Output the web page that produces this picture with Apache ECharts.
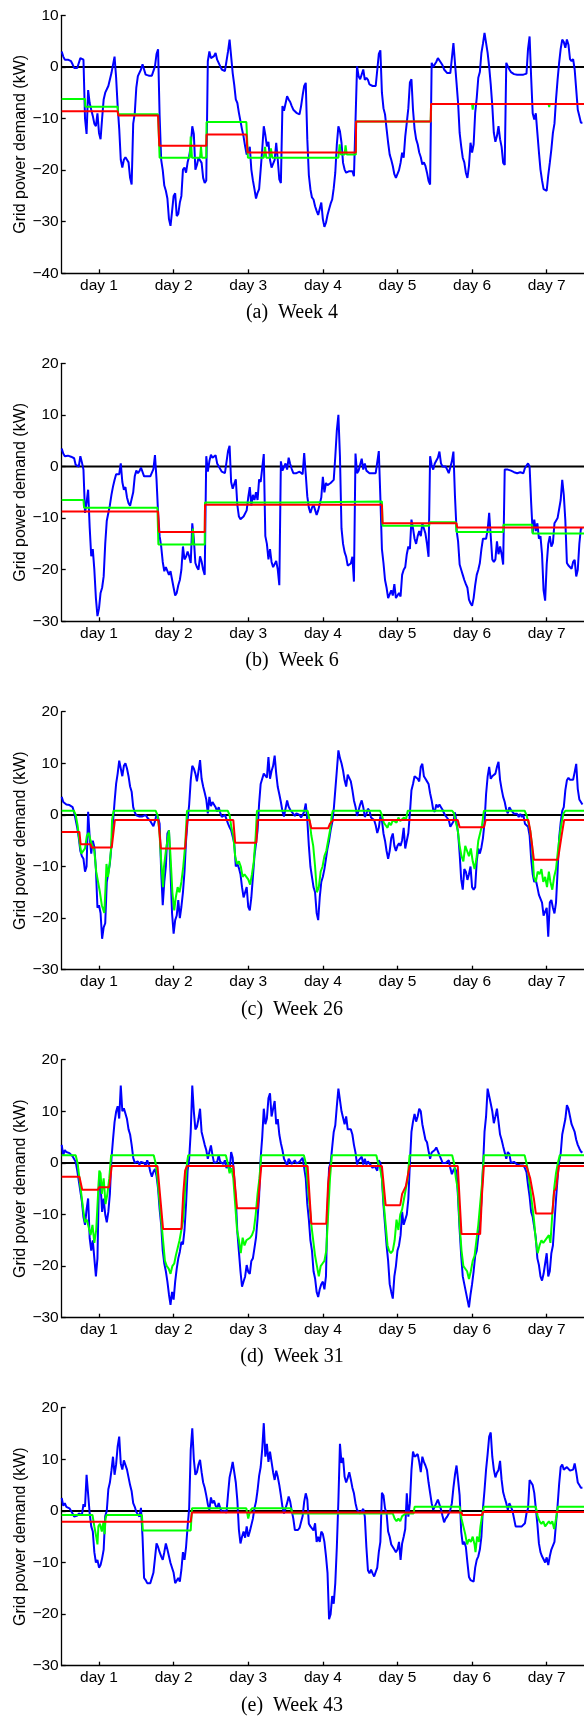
<!DOCTYPE html>
<html>
<head>
<meta charset="utf-8">
<script src="https://cdn.jsdelivr.net/npm/echarts@6/dist/echarts.min.js"></script>
<style>
html, body { margin: 0; padding: 0; background: #fff; }
#chart { width: 584px; height: 1716px; }
</style>
</head>
<body>
<div id="chart"></div>
<script>
// ticks sit in the middle of each day, x axis is in hours
const dayTickHours = [12, 36, 60, 84, 108, 132, 156];
const dayLabels = ['day 1', 'day 2', 'day 3', 'day 4', 'day 5', 'day 6', 'day 7'];
const panelTitles = ['(a)  Week 4', '(b)  Week 6', '(c)  Week 26', '(d)  Week 31', '(e)  Week 43'];
const yRanges = [[-40, 10], [-30, 20], [-30, 20], [-30, 20], [-30, 20]];

// blue: grid power demand (kW), read on the hour (h = 0..167) ...
const week4Blue = [
  3.0, 1.4, 1.4, 1.1, -0.2, -0.2, 1.7, 1.4, -13, -7,
  -9.5, -11.5, -12.8, -10, -5, -3.7, -1.2, 2.0, -7.6, -18,
  -18, -18, -21.5, -11, -4, -1.7, 0.5, -1.5, -1.7, -1.7,
  0.1, 3.4, -18, -23, -25.5, -30.8, -25, -28.9, -26.3, -19.9,
  -20.5, -17.3, -11.5, -19.9, -17.6, -18.6, -22.5, 1.1, 1.7, 2.1,
  1.4, 0.1, -0.8, -0.8, 5.3, -1.2, -6.3, -8.9, -12.1, -15.4,
  -17.3, -19.9, -23.7, -24.4, -19.9, -11.5, -15.4, -18, -19.2, -14.7,
  -21.8, -7.6, -8.3, -6.3, -7.6, -8.6, -8.9, -7.6, -3.7, -14,
  -23.7, -25.7, -27.9, -27.5, -29.5, -30.2, -27.6, -25.7, -20.5, -11.5,
  -14.7, -19.9, -20.8, -19.9, -21.2, 0.1, -2.4, -0.5, -2.1, -3.4,
  -3.7, -3.7, 2.5, -5, -9.2, -14.7, -18, -20.8, -21.5, -18.6,
  -17.6, -10.8, -3, -8.3, -14, -16.6, -18.9, -19.2, -22.1, 0.8,
  0.1, 1.7, 0.8, -0.5, -1.2, -1.2, 4.6, -3.1, -12.8, -17.6,
  -20.5, -19.2, -16.6, -8.9, -2.1, 2.7, 6.6, 2.7, -3.4, -12.8,
  -13.4, -14, -18.6, 0.8, -0.5, -1.3, -1.5, -1.5, -1.5, -1.2,
  3.5, -2, -10.2, -12.8, -19.9, -23.7, -24, -18.6, -12.8, -6.3,
  0.8, 5.3, 3.7, 4.3, 1.1, -0.5, -8.3, -10.8
];
// ... and on the half hour (h + 0.5)
const week4BlueHalf = [
  2, 1.4, 1.2, 0.5, -0.2, -0.3, 1.8, -10, -4.5, -8.3,
  -11, -9, -14, -6.3, -5, -4, -1, -2, -12, -19.5,
  -17.5, -18.5, -22.8, -9, -1.8, -0.5, -0.5, -1.7, -1.7, -1.7,
  2.5, -9.5, -20, -24, -29.5, -28, -24.5, -28.5, -25, -19.5,
  -18.5, -15.4, -13, -19, -17.3, -21.5, -22, 3, 1.5, 2.7,
  1.4, -0.5, -0.8, 3, 5, -3.5, -7, -10.5, -13.5, -17,
  -15.5, -22, -25.5, -23.7, -16, -13.2, -14.5, -19.5, -18, -18,
  -22.5, -8.5, -5.7, -6.8, -8.3, -8.9, -9.2, -5.5, -3.1, -21,
  -25.3, -27, -28.7, -26.3, -31, -28.7, -26.5, -23.5, -15, -12.5,
  -18.6, -20.5, -20.2, -20.2, -21, -1.8, -2.5, -2.5, -2.5, -3.7,
  -3.7, -3.5, 3.2, -8, -12, -17, -19.2, -21.5, -20, -16.6,
  -13.5, -8, -2.4, -12, -15, -17.5, -18.5, -20.5, -22.8, 0,
  1, 2, 0.3, -0.8, -1.2, -1.2, 4.5, -7, -15.4, -18.5,
  -21.5, -14.7, -15, -6, -1, 4.5, 6.5, 0, -7.5, -14.5,
  -11.5, -15.5, -19, 0.1, -1, -1.4, -1.5, -1.5, -1.5, -1.3,
  5.9, -9, -9, -16.5, -22, -23.5, -21, -16, -11, -2.5,
  3.5, 4.8, 5.3, 1.5, 1.5, -4.4, -9.5, -10.8
];
const week6Blue = [
  3.5, 2.0, 2.1, 1.9, 1.6, 0.1, 2.0, -0.6, -7, -11.8,
  -16, -25.5, -27.5, -23.5, -15, -9, -5.5, -2.6, -1.5, 0.6,
  -4.5, -6, -7.6, -5, -0.8, -0.9, -0.3, -1.9, -1.9, -1.9,
  2.2, -9, -15.5, -20.3, -19.5, -20.3, -23.5, -24.5, -22, -15.5,
  -17.5, -17.4, -11, -18.7, -20, -18.4, -21, -1, 2.3, 1.5,
  0.6, -0.5, -1.3, -1.3, 4.0, -4.3, -2.5, -9.7, -10, -9.8,
  -6, -7.6, -6.5, -6.5, -3, 2.4, -15, -16, -19.5, -18.3,
  -23, -0.8, 0.6, 1.7, -0.5, -1.3, -1.3, -0.9, 2.6, -5.8,
  -9, -7.4, -9.4, -8.2, -2, -3.2, -3.6, -3.2, 1.9, 10,
  -12, -16.6, -19.2, -18.8, -22.3, -1.3, -0.8, -0.6, -0.8, -1.3,
  -1.3, -1.3, 3.0, -16, -22, -25.5, -24, -22.8, -25.5, -25.2,
  -20, -17, -16, -12, -15, -12.5, -11, -13, -17.5, 0.3,
  0.6, 1.7, 0.6, 0, -0.6, -1.3, 2.9, -12.3, -19, -21,
  -22.8, -25.8, -27, -23, -20, -16, -14, -12.3, -13.5, -18.5,
  -14.5, -15.5, -19, -0.6, -0.3, -0.6, -1.3, -1, -1.3, -0.3,
  0.6, -7, -10.3, -11, -13.5, -24, -19, -13.5, -14.8, -10.5,
  -10, -2.6, -10.5, -19.2, -19.8, -18.1, -20, -12
];
const week6BlueHalf = [
  2.5, 2.3, 2.0, 1.7, 0.3, 0, 0.8, -9, -4.5, -17.4,
  -20, -29, -24.5, -21.3, -10.5, -7.5, -3.9, -1.5, -1.5, -3,
  -4, -7.1, -7.5, -1.9, -1.3, -0.2, -1.9, -1.9, -1.9, -0.5,
  -2.5, -13.5, -18.5, -19.5, -21, -21.9, -25, -23, -20, -18,
  -16.5, -18.7, -14, -19.5, -17.4, -20, 2, 1, 1.7, 2.2,
  0.6, -1, -1.3, 3, -3, -4.5, -7.5, -10.2, -9.7, -8.5,
  -4, -5.5, -5, -2.5, -3.2, -13.5, -18, -18.5, -19.4, -20,
  1, -0.5, -0.6, 0.5, -1.3, -1.3, -1, -1.5, -1.5, -8,
  -8, -8.4, -8.5, -6, -5, -3.6, -3.2, -2.6, 7, 2,
  -15, -17.5, -19.2, -17.5, 2.5, -0.8, 1.5, 0.6, -1, -1.3,
  -1.3, -1.3, -6, -18.7, -23.5, -25.5, -25, -25.5, -24.5, -21,
  -19.5, -15.5, -10.3, -14, -13.5, -13.5, -12, -15, 2, -0.6,
  0.8, 2.9, 0, 0, -1.3, 1, -5.8, -14.5, -20, -22,
  -23.5, -26.5, -25.5, -21, -18.7, -14, -14, -9, -18, -18,
  -17, -17, -0.6, -0.6, -0.8, -1.1, -1.3, -1.1, -1.3, 0,
  0, -12.9, -12.5, -14, -17, -26, -15, -15.5, -11, -10,
  -6.5, -5.5, -18.7, -19.5, -18.5, -21.3, -15, -12
];
const week26Blue = [
  3.5, 2.3, 2.0, 1.8, 0.5, -2.5, -7, -8.5, -10, -4.3,
  -5, -10.5, -17.5, -24, -21, -13, -6, 2.5, 8, 10.8,
  9.5, 9, 5.5, 1.5, -0.1, -0.3, -0.3, 0, -0.5, -1.7,
  -1.2, -0.5, -11, -13, -3.6, -11, -23, -19.5, -20, -15,
  -5, 2, 9.5, 8, 8.5, 7, 4.3, 0.3, 1.7, 2.5,
  0.6, 0.4, -0.6, 0.2, -2.4, -4.2, -10, -10.3, -14, -16,
  -17.8, -16, -8, -3, 6, 8, 7.2, 7, 9.5, 8,
  4, 0.7, -0.3, 1.6, 0.7, -0.2, 0.3, -0.5, 0.6, -1,
  -10, -14, -19, -16, -12, -8.5, -5, -1.5, 4.8, 12.5,
  10, 6.7, 7.8, 6.5, 2.8, -0.2, 2, 1.5, 0.2, 0.8,
  -0.4, -2, -2.5, -1, -5, -8.5, -4.5, -6, -6, -6,
  -2.5, -6.5, 0.3, 6, 7.5, 6.5, 9.9, 7, 6, 2.8,
  0.6, 1.5, 1.5, 0.3, -0.6, -2.3, -1.3, 0.2, -7.5, -14.5,
  -11, -11.5, -14, -14, -6.5, -6.3, -1.5, 7.4, 7, 7.5,
  9.3, 6.8, 3.5, 1, 1.5, 0.6, 0.2, -0.4, -0.4, -1.7,
  -2.3, -8.5, -13, -14, -15.5, -19.5, -18, -17, -18, -17,
  -4.5, 0.8, 4.8, 7.2, 6.5, 8.3, 5, 2.5
];
const week26BlueHalf = [
  2.5, 2.0, 1.9, 1.5, -1, -4.5, -8, -11, 0.6, -7.5,
  -6.2, -18, -19, -21.8, -13, -9.4, -1.5, 6, 10.5, 7.5,
  10, 7.5, 4.5, 0.5, 0, -0.2, 0, -0.5, -1.2, -2.2,
  0, -1.7, -17.5, -10, -3, -19.1, -20.4, -16.5, -17.8, -11,
  -1, 6.7, 9, 6.5, 10.6, 5.5, 3, 3.5, 2.5, 1.5,
  1.5, -0.4, 0, -1.7, -3, -5.5, -9.5, -11.5, -16, -14,
  -18.5, -12, -5.5, 2.2, 7, 8, 11.2, 8.5, 11.5, 5.4,
  2.5, -0.3, 2.8, 1, 0.2, 0.3, 0, -0.5, 2.2, -6,
  -12, -15, -20.4, -13, -10.5, -6.5, -3, 1, 8.6, 11,
  8.6, 5.5, 7.5, 4.8, 1.6, -0.2, 2.8, -0.4, 1.2, -0.5,
  -1, -3.5, -0.3, -3.6, -7, -7, -3.6, -7, -5.5, -4.9,
  -6.5, -3.5, 4.8, 7.5, 7, 9.3, 7.5, 6.5, 4.2, 1,
  2, 2, 1, -0.2, -1, -2.3, 0.5, -3.5, -12.5, -10.5,
  -12.6, -10, -14.5, -9, -7.5, -4.5, 4, 9.3, 7.5, 8,
  10.3, 5, 2.5, 0.3, 1, 0.2, 0.2, 0.2, 0, -1.7,
  -4, -11.5, -12.6, -15.5, -17, -19.5, -23.6, -16.5, -19.1, -11,
  -1.5, 1.5, 6.7, 6.8, 6.8, 9.9, 3, 2
];
const week31Blue = [
  3.5, 2.5, 2.1, 1.8, 1.2, -1.5, -5.5, -10.5, -9, -14.6,
  -15, -22, -3, -9.5, -10, -9.5, 0.8, 7.9, 11, 15,
  10.6, 8.5, 5.5, 1, -0.2, -0.3, 0.2, -0.5, -0.3, -2.7,
  -1.2, -5, -12, -19.5, -23, -27.5, -26.5, -20.5, -17.2, -15.8,
  -8, 0.8, 15, 6.5, 8.5, 6, 3.5, 0.8, 3.4, 0,
  0.2, 0.2, -0.2, -1, -1.6, 1, -7, -17.2, -24, -22,
  -21.1, -19, -16.5, -10.8, 1, 10.5, 8.6, 13.5, 10.5, 7.5,
  5.5, 2.5, 0.2, 0.8, -0.2, 0.5, -0.3, 0.5, -1, -8,
  -15, -21, -25, -24.5, -23, -22, -1, 3, 7.3, 14.4,
  10, 7.5, 6.5, 6.5, 3.5, -0.3, 0.5, -0.3, -0.3, -0.1,
  -1, -1, 0.5, -3, -12, -19, -25, -22, -17, -14,
  -12, -10, 0, 8, 8, 10.5, 7.5, 4.5, 2.3, 2,
  2.5, 3, 0.8, 0.1, -0.2, -1, -1.4, -1.7, -13, -22,
  -25, -28, -23.5, -18, -14.3, -7.5, 6, 14.4, 11.5, 7.7,
  10.5, 5.5, 3.2, 0.8, 1.7, 0, 0.2, -0.4, -0.5, -1,
  -4.3, -9.5, -12.5, -18.5, -22, -21.5, -17.5, -21, -16, -7,
  0.3, 5.5, 8.5, 10.5, 7.5, 6, 3.5, 2.2
];
const week31BlueHalf = [
  1.5, 2.1, 1.9, 1.3, 0.2, -3.5, -7.5, -12, -6.9, -17,
  -18.5, -18.5, -4.3, -6.9, -11.5, -6, 4.5, 9.9, 8.6, 10,
  10.3, 6.5, 3.5, 0, 0.3, 0.2, 0, 0.5, -1.7, -1.7,
  -2.5, -9, -17, -21, -25.5, -25, -23, -18.5, -15.3, -13,
  -1.5, 6, 10, 7, 10.5, 5.7, 2.5, 2.1, 1.5, -0.3,
  1.5, 0, 0.5, -0.5, 2.1, -3, -13.4, -21, -23, -19.8,
  -21.5, -18.5, -14.5, -6.5, 5, 7.5, 12.5, 9, 12, 8.5,
  3.8, 0.8, -0.5, 0.3, 0, -0.1, 0.2, 1, -3, -11,
  -17, -22.4, -26, -23.5, -24.5, -9, 0, 6, 11, 14.4,
  10.3, 9, 6.5, 5.5, 2, 0.5, 1.2, 0.8, 0.3, 0.2,
  -0.5, -1.5, 0, -8.2, -16, -23.5, -26.3, -20, -16, -9.5,
  -11, -7, 6, 9.5, 9, 10, 6, 4, 0.8, 2.1,
  3, 1.5, 0, 0, 0.5, -2.2, -1, -6.9, -18, -23.5,
  -26.5, -25.5, -21, -17, -12, -1, 9, 14.4, 10, 9,
  8, 4.5, 2, 2.1, 0, 0.2, -0.3, -0.5, -0.5, -1.8,
  -6.5, -10.5, -14.5, -19.8, -22.8, -19.5, -22, -17.5, -11.5, -3,
  1.8, 7, 11.2, 9, 7.5, 4.5, 2.8, 2
];
const week43Blue = [
  2.5, 1.5, 1.0, 0.2, -1.1, -0.9, -0.5, 1.3, 7, -0.5,
  -4, -10, -11, -9.2, -1, 4.2, 7.8, 7, 12.5, 9.2,
  9.8, 8, 5, 1.5, -0.2, -1.1, -5, -13.4, -14, -14,
  -9.2, -7, -8.8, -8, -7.5, -10.1, -12, -14, -13.7, -8,
  -7, 0.5, 16, 7, 9, 7.5, 4.5, 1.3, 2.6, 2,
  0.5, 0.5, -0.2, -0.4, 6.5, 9.5, 5.5, -3.7, -5, -5.2,
  -5, -3.8, 0.5, 4, 8.5, 17, 13, 11.5, 7.5, 7.8,
  5, 0.8, -0.2, 2.8, 0, -3.7, -3.7, -3, 1.8, 2.2,
  -3, -3.8, -6, -6, -4.5, -8.7, -21, -16.5, -14, 2,
  9.3, 6.6, 6.4, 6.1, 3.4, 0.2, -0.5, 0.4, -7, -12.1,
  -12.1, -12.5, -8, 3.5, 0.5, -4, -6.5, -7.5, -7.5, -9.5,
  -5, 3.4, 1.5, 11.5, 10.5, 9.5, 10.5, 8.8, 5.5, 1.5,
  0.5, 2.2, 0.3, -2.2, -1.1, 0.2, 4.5, 8.8, 3, -6.5,
  -7, -12.8, -13.5, -11, -8.8, -5, 4, 11, 15.2, 8,
  7.4, 9.7, 3.6, 1.5, 1.5, 0, -3, -3, -3, -2.4,
  0.5, 5.5, 3.5, -2.5, -8, -9, -9, -8.8, -7.5, -2.4,
  5.2, 9, 8, 8.2, 7.5, 9.2, 5.5, 4.5
];
const week43BlueHalf = [
  1, 0.8, 0.5, -0.5, -1.1, -0.5, -0.8, 0.8, 7.3, -3,
  -8, -9.5, -10.5, -7.5, 0, 5.5, 10.5, 9, 14.4, 8,
  9.5, 6.5, 3.8, 0.8, -0.5, 0.6, -13, -14, -14, -12,
  -6.3, -8, -9.5, -6.3, -7.5, -10.1, -14, -13, -11.4, -9.5,
  -3, 11.8, 10, 7.5, 9.9, 5.5, 3, 0.2, 1.5, 1,
  1.5, -0.2, 0, 3.2, 7.9, 7.5, 2, -6.3, -4, -3,
  -4, -1.5, 1.8, 6.8, 12, 10.5, 9.5, 11.5, 6, 6.6,
  3, -0.5, 1.5, 1.8, -1.5, -3.7, -3.3, -1, 3.4, -2.5,
  -3, -2.4, -5, -4, -6, -12, -20, -18, -7, 13,
  10.3, 5.5, 7.5, 4.5, 1.5, 0.2, -0.8, -1.1, -11.5, -11.4,
  -12.7, -11, -6, 3, -0.5, -5, -7, -8, -6, -6.3,
  -3.5, -1.1, 7.9, 10.5, 11, 7.5, 9.5, 7.9, 3.5, 0.2,
  1.5, 2.5, -1, -1.5, -0.5, 1.5, 7, 6, -4, -6,
  -10, -13.4, -13.7, -9.5, -7.5, 0.5, 8, 14.4, 10.5, 6.5,
  7.9, 6, 2.5, 0.2, 0.8, -1.5, -3, -3, -2.8, -0.5,
  6, 5, 0.5, -6.3, -8.8, -10, -10.5, -7.5, -6, 1,
  8.5, 8, 8.5, 7.8, 8, 7.5, 5, 4.5
];

// green and red: [hour, kW] corner points
const week4Green = [
  [0, -6.2], [7.5, -6.2], [7.6, -7.7], [18, -7.7], [18.1, -9.2], [31, -9.2], [31.5, -17.6],
  [41.2, -17.6], [41.5, -13.5], [41.9, -17.6], [44.5, -17.6], [44.8, -15.4], [45.1, -17.6],
  [46.5, -17.6], [46.6, -10.7], [59.4, -10.7], [59.9, -17.6], [65, -17.6], [65.4, -15.5],
  [65.8, -17.6], [67, -17.6], [67.3, -15.8], [67.7, -17.6], [89, -17.6], [89.4, -15],
  [89.8, -17], [91, -17], [91.3, -15.2], [91.7, -17], [94.6, -17], [94.7, -10.6],
  [118.7, -10.6], [118.8, -7.2], [132, -7.2], [132.2, -8.3], [132.4, -7.2], [156.6, -7.2],
  [156.8, -7.8], [157, -7.2], [168, -7.2]
];
const week4Red = [
  [0, -8.6], [18, -8.6], [18.2, -9.4], [31, -9.4], [31.4, -15.3], [46.5, -15.3], [46.6, -13.1],
  [59.4, -13.1], [59.8, -16.6], [94.6, -16.6], [94.7, -10.6], [118.7, -10.6], [118.8, -7.2], [168, -7.2]
];
const week6Green = [
  [0, -6.5], [7, -6.5], [7.2, -8], [30.8, -8], [31.1, -15.1], [42, -15.1], [42.2, -12],
  [42.4, -15.1], [46, -15.1], [46.1, -7], [75, -7], [75.1, -6.8], [103, -6.8], [103.2, -11.5],
  [118.2, -11.5], [118.3, -10.8], [126.8, -10.8], [127, -12.7], [142, -12.7], [142.1, -11.3],
  [151.3, -11.3], [151.5, -13], [168, -13]
];
const week6Red = [
  [0, -8.7], [31, -8.7], [31.3, -12.7], [46, -12.7], [46.1, -7.4], [103, -7.4], [103.2, -11],
  [127, -11], [127.2, -11.8], [168, -11.8]
];
const week26Green = [
  [0, 0.8], [3.9, 0.8], [4.5, 0], [5.1, -2], [5.7, -5], [6.3, -7.5], [6.9, -7.6], [7.5, -6.5],
  [8.1, -4], [8.7, -3.5], [9.3, -5], [9.9, -6], [10.5, -7], [11.1, -11], [11.7, -13], [12.3, -15],
  [12.9, -17.5], [13.7, -19], [14.1, -14], [14.4, -9.5], [14.9, -12], [15.4, -9.7], [15.9, -6.5],
  [16.2, -1], [16.7, 0.8],
  [30.2, 0.8], [30.8, 0], [31.4, -3], [32, -9], [32.6, -14], [32.9, -10], [33.5, -7], [34, -5],
  [34.5, -3], [35, -8], [35.6, -15], [36.2, -18.5], [36.7, -16], [37.3, -14], [37.9, -15],
  [38.5, -13], [39.1, -10], [39.7, -6], [40.3, 0.8],
  [53.4, 0.8], [54, 0], [54.6, -2.5], [55.2, -4], [55.8, -8], [56.4, -9.5], [57, -9], [57.6, -10],
  [58.2, -12], [58.8, -11.5], [59.4, -12], [60, -12.5], [60.6, -13.5], [61.2, -11.5], [61.8, -9],
  [62.4, -4], [62.8, 0.8],
  [79.1, 0.8], [79.7, -1], [80.3, -4], [80.9, -6], [81.5, -10], [82.1, -15], [82.7, -14],
  [83.3, -11], [83.9, -10], [84.5, -8], [85.1, -7], [85.7, -5], [86.3, -3], [86.9, 0], [87.2, 0.8],
  [102.4, 0.8], [103, 0], [103.6, -1.5], [104.2, -2], [104.8, -2.5], [105.3, -1.5], [105.9, -2],
  [106.5, -1], [107.1, -0.8], [107.7, -1.5], [108.3, -0.5], [108.9, -1.2], [109.5, -1.5],
  [110.1, -0.5], [110.7, -1], [111.3, 0.8],
  [125.6, 0.8], [126.2, 0.3], [126.8, -1.5], [127.4, -3], [128, -6], [128.6, -8], [129.2, -9],
  [129.8, -6], [130.4, -7], [131, -8], [131.6, -6.5], [132.2, -9], [132.8, -10.5], [133.4, -8.5],
  [134, -5], [134.6, -3.5], [135.2, -2], [135.8, 0.8],
  [148.9, 0.8], [149.5, 0], [150.1, -1.5], [150.7, -3], [151.3, -6], [151.9, -12], [152.5, -13],
  [153.1, -11], [153.7, -11.5], [154.3, -10.5], [154.9, -13], [155.5, -12], [156.1, -14],
  [156.7, -11], [157.2, -13], [157.8, -14.5], [158.4, -12], [159, -10.5], [159.6, -7], [160.2, -4],
  [160.8, -1.5], [161.4, 0.3], [162, 0.8], [168, 0.8]
];
const week26Red = [
  [0, -3.3], [5.7, -3.3], [6.1, -5.7], [9.3, -5.7], [9.6, -6.3], [16.1, -6.3], [17.1, -1],
  [31.1, -1], [31.9, -6.5], [39.7, -6.5], [40.4, -1], [55.2, -1], [55.8, -5.4], [62.6, -5.4],
  [63, -1], [79.7, -1], [80.3, -2.6], [85.7, -2.6], [86.3, -1.7], [87.4, -1], [127.4, -1],
  [128, -2.4], [135.8, -2.4], [136.4, -1], [150.1, -1], [150.7, -3], [151.9, -8.7], [159.6, -8.7],
  [160.8, -4], [161.6, -1], [168, -1]
];
const week31Green = [
  [0, 1.5], [4.5, 1.5], [5.1, 0], [5.7, -3], [6.3, -6], [6.9, -9], [7.5, -11.5], [8.1, -11],
  [8.7, -12.5], [9.3, -14], [9.9, -12], [10.5, -15.5], [11.1, -13], [11.7, -6], [12.1, -1.5],
  [12.5, -2], [12.9, -6], [13.5, -3], [14.1, -8], [14.7, -6], [15.3, -3], [15.9, 1.5],
  [29.6, 1.5], [30.2, 0], [30.8, -3], [31.4, -7], [32, -11], [32.6, -15], [33.2, -19], [33.8, -20],
  [34.4, -20.5], [35, -21.5], [35.6, -20], [36.2, -19.5], [36.7, -18], [37.3, -16.5], [37.9, -15],
  [38.5, -13], [39.1, -11], [39.7, -5], [40.3, 0], [40.7, 1.5],
  [52.8, 1.5], [53.4, 0], [54, -2], [54.6, -1], [55.2, -3], [55.8, -8], [56.4, -13], [57, -15],
  [57.6, -17.5], [58.2, -14.5], [58.8, -16], [59.4, -15], [60, -15], [60.6, -14.5], [61.2, -14],
  [61.8, -13], [62.4, -10], [63, -6], [63.6, -3], [64.2, 1.5],
  [77.9, 1.5], [78.5, 0], [79.1, -4], [79.7, -8], [80.3, -12], [80.9, -15], [81.5, -18], [82.1, -20],
  [82.7, -22], [83.3, -20], [83.9, -19.5], [84.5, -19], [85.1, -17], [85.7, -10], [86.3, -3], [86.9, 1.5],
  [101.2, 1.5], [101.8, 0], [102.4, -1], [103, -3], [103.6, -8], [104.2, -12], [104.8, -16],
  [105.3, -17], [105.9, -17.5], [106.5, -17], [107.1, -15], [107.7, -11], [108.3, -13], [108.9, -10],
  [109.5, -9], [110.1, -7], [110.7, -5], [111.3, -3], [111.9, 1.5],
  [125.6, 1.5], [126.2, 0], [126.8, -3], [127.4, -5], [128, -12], [128.6, -17], [129.2, -20],
  [129.8, -20], [130.4, -21], [131, -22.5], [131.6, -21], [132.2, -19], [132.8, -18], [133.4, -15],
  [134, -12], [134.6, -8], [135.2, -4], [135.8, 1.5],
  [148.9, 1.5], [149.5, 0], [150.1, -2], [150.7, -5], [151.3, -8], [151.9, -11], [152.5, -15],
  [153.1, -17.5], [153.7, -16], [154.3, -15], [154.9, -15.5], [155.5, -15], [156.1, -15], [156.7, -14],
  [157.2, -15.5], [157.8, -10], [158.4, -5], [159, -2], [159.6, 0], [160.2, 1.5], [168, 1.5]
];
const week31Red = [
  [0, -2.7], [5.7, -2.7], [6.6, -5.2], [11.7, -5.2], [12, -4.7], [15.3, -4.7], [16.1, -0.6],
  [30.8, -0.6], [32.6, -12.8], [38.5, -12.8], [39.1, -6], [39.7, -1.5], [40.3, -0.6], [55.2, -0.6],
  [56.4, -8.8], [63, -8.8], [64.2, -0.6], [79.1, -0.6], [80.3, -11.8], [85.1, -11.8], [85.7, -4],
  [86.3, -0.6], [103, -0.6], [104.2, -8.2], [108.9, -8.2], [109.5, -6], [110.7, -4.5], [111.9, -0.6],
  [127.4, -0.6], [128.6, -13.8], [134.6, -13.8], [135.2, -6], [135.8, -0.6], [149.5, -0.6],
  [150.7, -3], [151.9, -7], [152.5, -9.8], [157.8, -9.8], [158.4, -5.5], [159, -5], [159.9, -0.6],
  [168, -0.6]
];
const week43Green = [
  [0, -0.8], [9.9, -0.8], [10.5, -3], [11.1, -5], [11.5, -6.5], [11.8, -3], [12.3, -2.5], [12.9, -4],
  [13.5, -2], [13.8, -4.5], [14.1, -1.5], [14.4, -0.8], [25.8, -0.8], [26.1, -3.8], [41.5, -3.8],
  [41.9, 0.5], [59.4, 0.5], [60, -1.5], [60.6, 0], [61.2, 0.5], [73.7, 0.5], [74.3, -0.5],
  [106.5, -0.5], [107.1, -1.5], [107.7, -2], [108.3, -1.5], [108.9, -2], [109.5, -1], [110.7, -0.5],
  [113.2, -0.5], [113.5, 0.8], [128, 0.8], [128.6, -1.5], [129.2, -3], [129.8, -4.5], [130.4, -6.5],
  [131, -5.5], [131.6, -6], [132.2, -5], [132.8, -6.5], [133.1, -8], [133.6, -5], [134.2, -6],
  [134.7, -3], [135.2, -1], [135.8, 0.8], [152.5, 0.8], [153.1, -1], [153.7, -2], [154.3, -2.5],
  [154.9, -2], [155.5, -3], [156.1, -2.5], [156.7, -2], [157.2, -2.5], [157.8, -2], [158.4, -3.5],
  [159, -1.5], [159.6, 0.8], [168, 0.8]
];
const week43Red = [
  [0, -2.1], [41.5, -2.1], [41.9, -0.3], [128.6, -0.3], [128.9, -0.8], [135.2, -0.8],
  [135.5, -0.2], [168, -0.2]
];

const bluesOnHour = [week4Blue, week6Blue, week26Blue, week31Blue, week43Blue];
const bluesOnHalf = [week4BlueHalf, week6BlueHalf, week26BlueHalf, week31BlueHalf, week43BlueHalf];
const greens = [week4Green, week6Green, week26Green, week31Green, week43Green];
const reds = [week4Red, week6Red, week26Red, week31Red, week43Red];

// layout of the five stacked panels
const gridTops = [15.3, 363.3, 711.7, 1059.7, 1407.7];
const titleMids = [314, 662, 1011, 1357.7, 1706.7];
const plotLeft = 61.7;
const plotHeight = 258;

const minusSign = v => (v < 0 ? '\u2212' + Math.abs(v) : String(v));

// merge the on-hour and half-hour readings into one [hour, kW] list
function blueSeriesData(onHour, onHalf) {
  const out = [];
  onHour.forEach((v, h) => {
    out.push([h, v]);
    if (onHalf[h] !== undefined) out.push([h + 0.5, onHalf[h]]);
  });
  return out;
}

const chart = echarts.init(document.getElementById('chart'));
const grid = [], xAxis = [], yAxis = [], series = [], title = [];

gridTops.forEach((top, i) => {
  grid.push({ left: plotLeft, right: 0, top: top, height: plotHeight });
  xAxis.push({
    type: 'value', gridIndex: i, min: 0, max: 168,
    axisLine: { onZero: false, lineStyle: { color: '#000', width: 1.3 } },
    axisTick: { inside: true, length: 4, customValues: dayTickHours, lineStyle: { color: '#000', width: 1.3 } },
    axisLabel: {
      customValues: dayTickHours,
      formatter: v => dayLabels[Math.round((v - 12) / 24)],
      color: '#000', fontSize: 15.5, fontFamily: 'Liberation Sans', margin: 4
    },
    splitLine: { show: false }
  });
  yAxis.push({
    type: 'value', gridIndex: i, min: yRanges[i][0], max: yRanges[i][1], interval: 10,
    name: 'Grid power demand (kW)', nameLocation: 'middle', nameGap: 33, nameMoveOverlap: false,
    nameTextStyle: { color: '#000', fontSize: 16, fontFamily: 'Liberation Sans' },
    axisLine: { show: true, lineStyle: { color: '#000', width: 1.3 } },
    axisTick: { show: true, inside: true, length: 4, lineStyle: { color: '#000', width: 1.3 } },
    axisLabel: { formatter: minusSign, color: '#000', fontSize: 15.5, fontFamily: 'Liberation Sans', margin: 3 },
    splitLine: { show: false }
  });
  title.push({
    text: panelTitles[i], left: 'center', top: titleMids[i] - 16,
    textStyle: { fontFamily: 'Liberation Serif', fontSize: 20, fontWeight: 'normal', color: '#000' }
  });
  const base = { type: 'line', xAxisIndex: i, yAxisIndex: i, symbol: 'none', silent: true };
  series.push(Object.assign({}, base, {
    data: [[0, 0], [168, 0]], lineStyle: { color: '#000', width: 2 }
  }));
  series.push(Object.assign({}, base, {
    data: blueSeriesData(bluesOnHour[i], bluesOnHalf[i]), lineStyle: { color: '#0000ff', width: 2 }
  }));
  series.push(Object.assign({}, base, {
    data: greens[i], lineStyle: { color: '#00ff00', width: 2 }
  }));
  series.push(Object.assign({}, base, {
    data: reds[i], lineStyle: { color: '#ff0000', width: 2 }
  }));
});

chart.setOption({
  animation: false,
  backgroundColor: '#fff',
  title: title,
  grid: grid,
  xAxis: xAxis,
  yAxis: yAxis,
  series: series
});
</script>
</body>
</html>
